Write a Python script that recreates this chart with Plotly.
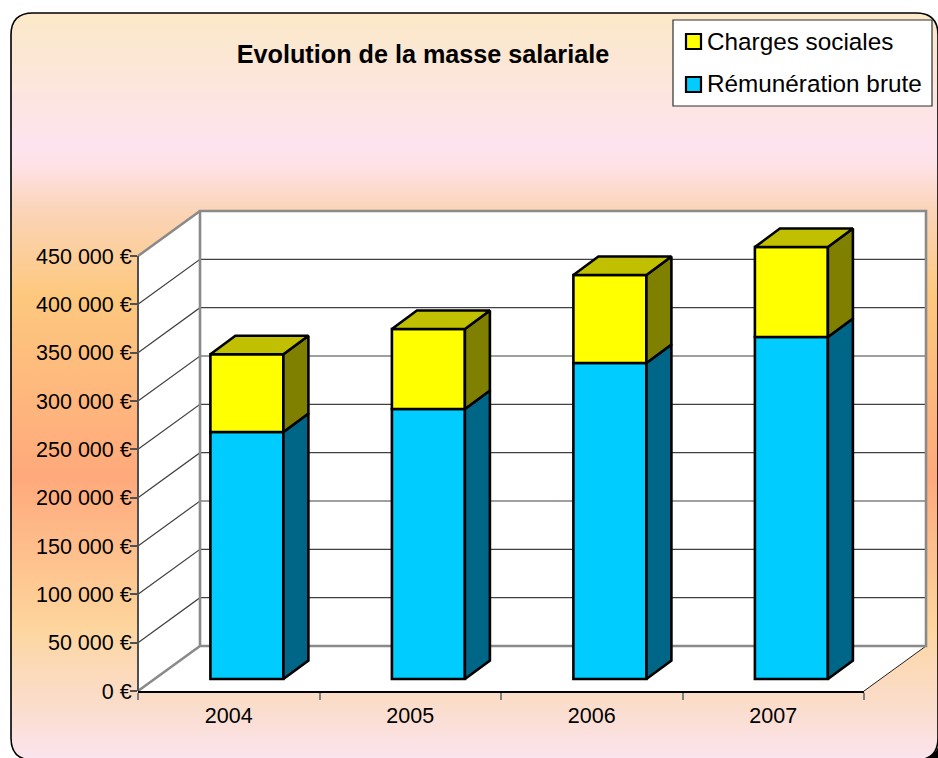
import plotly.graph_objects as go

# ---- data ----
categories = ["2004", "2005", "2006", "2007"]
remuneration_brute = [255500, 279300, 326900, 353800]
charges_sociales = [80500, 82700, 91000, 93100]
y_ticks = [0, 50000, 100000, 150000, 200000, 250000, 300000, 350000, 400000, 450000]
y_tick_labels = ["0 €", "50 000 €", "100 000 €", "150 000 €", "200 000 €",
                 "250 000 €", "300 000 €", "350 000 €", "400 000 €", "450 000 €"]

# ---- page geometry (pixels) ----
W, H = 938, 758
L, R, T0, B0 = 138, 864, 256, 691      # front plane of the 3D box
DX, DY = 62, 45                        # depth of the 3D box
PX_X = (R - L) / len(categories)       # pixels per category
PX_Y = (B0 - T0) / y_ticks[-1]         # pixels per euro
Y_LIMIT = 500000                       # headroom so the depth faces are not clipped
BAR_W = 73 / PX_X
BAR_OFF = 72.4 / PX_X
BAR_BASE = 12 / PX_Y
SIDE_X = 25 / PX_X
SIDE_Y = 18.5 / PX_Y

# vertical gradient of the chart area (pixel row, colour)
gradient = [(13, "#FBE9C8"), (145, "#FDE3EE"), (165, "#FDE2E6"), (205, "#FBD5BC"),
            (295, "#FDC87E"), (477, "#FFA97C"), (625, "#FDD59C"), (660, "#FCD9B4"),
            (700, "#FBDCC8"), (758, "#FBE4EE")]

fig = go.Figure()

# background gradient, on a full-page pixel axis pair
rows = list(range(0, H + 2, 2))
lo, hi = gradient[0][0], gradient[-1][0]
fig.add_trace(go.Heatmap(
    x=[0, W], y=rows, z=[[max(r, lo), max(r, lo)] for r in rows],
    zmin=lo, zmax=hi, showscale=False, hoverinfo="skip", zsmooth="best",
    colorscale=[[(p - lo) / (hi - lo), c] for p, c in gradient],
    xaxis="x", yaxis="y"))


def py(v):
    return B0 - v * PX_Y


# walls and floor
top = y_ticks[-1]
fig.add_trace(go.Scatter(
    x=[L, L + DX, R + DX, R + DX, R, L, L],
    y=[py(top), py(top) - DY, py(top) - DY, B0 - DY, B0, B0, py(top)],
    mode="lines", fill="toself", fillcolor="white", line=dict(width=0),
    hoverinfo="skip", showlegend=False, xaxis="x", yaxis="y"))
for v in y_ticks[1:-1]:
    fig.add_trace(go.Scatter(
        x=[L, L + DX, R + DX], y=[py(v), py(v) - DY, py(v) - DY],
        mode="lines", line=dict(color="#404040", width=1.2),
        hoverinfo="skip", showlegend=False, xaxis="x", yaxis="y"))
fig.add_trace(go.Scatter(
    x=[R, R + DX], y=[B0, B0 - DY], mode="lines",
    line=dict(color="#202020", width=1),
    hoverinfo="skip", showlegend=False, xaxis="x", yaxis="y"))
fig.add_trace(go.Scatter(
    x=[L, L + DX, R + DX, R + DX, L + DX, L + DX, L + DX, L],
    y=[B0, B0 - DY, B0 - DY, py(top) - DY, py(top) - DY, B0 - DY, py(top) - DY, py(top)],
    mode="lines", line=dict(color="#8A8A8A", width=2.6),
    hoverinfo="skip", showlegend=False, xaxis="x", yaxis="y"))
fig.add_trace(go.Scatter(
    x=[L, L], y=[py(0), py(top)], mode="lines", line=dict(color="#505050", width=2),
    hoverinfo="skip", showlegend=False, xaxis="x", yaxis="y"))

# bars: front faces through the chart's own value axis
positions = list(range(len(categories)))
starts_blue = [BAR_BASE] * len(categories)
starts_yellow = [BAR_BASE + r for r in remuneration_brute]
outline = dict(color="black", width=2.6)
fig.add_trace(go.Bar(
    x=positions, y=remuneration_brute, base=starts_blue, width=BAR_W, offset=BAR_OFF,
    marker=dict(color="#00CCFF", line=outline), name="Rémunération brute",
    showlegend=False, cliponaxis=False, xaxis="x2", yaxis="y2"))
fig.add_trace(go.Bar(
    x=positions, y=charges_sociales, base=starts_yellow, width=BAR_W, offset=BAR_OFF,
    marker=dict(color="#FFFF00", line=outline), name="Charges sociales",
    showlegend=False, cliponaxis=False, xaxis="x2", yaxis="y2"))


def face(xs, ys, colour):
    fig.add_trace(go.Scatter(
        x=xs, y=ys, mode="lines", fill="toself", fillcolor=colour,
        line=dict(color="black", width=2.6), cliponaxis=False,
        hoverinfo="skip", showlegend=False, xaxis="x2", yaxis="y2"))


# bars: side and top faces derived from the same values
for p, r, c in zip(positions, remuneration_brute, charges_sociales):
    x1 = p + BAR_OFF + BAR_W
    x0 = p + BAR_OFF
    y0 = BAR_BASE
    y1 = BAR_BASE + r
    y2 = y1 + c
    face([x1, x1 + SIDE_X, x1 + SIDE_X, x1, x1],
         [y0, y0 + SIDE_Y, y1 + SIDE_Y, y1, y0], "#006688")
    face([x1, x1 + SIDE_X, x1 + SIDE_X, x1, x1],
         [y1, y1 + SIDE_Y, y2 + SIDE_Y, y2, y1], "#808000")
    face([x0, x1, x1 + SIDE_X, x0 + SIDE_X, x0],
         [y2, y2, y2 + SIDE_Y, y2 + SIDE_Y, y2], "#C0C000")

# legend entries (their swatches are drawn at the reference spot by the shapes below)
fig.add_trace(go.Scatter(
    x=[None], y=[None], mode="markers", name="Charges sociales", legendgroup="a",
    marker=dict(symbol="square", size=1, color="rgba(0,0,0,0)"),
    xaxis="x2", yaxis="y2"))
fig.add_trace(go.Scatter(
    x=[None], y=[None], mode="markers", name="Rémunération brute", legendgroup="b",
    marker=dict(symbol="square", size=1, color="rgba(0,0,0,0)"),
    xaxis="x2", yaxis="y2"))

r = 22
bx, by = 938, 760
corners = [
    ("white", f"M0,0 L{W},0 L{W},{13} L0,{13} Z"),
    ("white", f"M0,{13} L{11},{13} L{11},{H} L0,{H} Z"),
    ("white", f"M{11},{13} L{11+r},{13} Q{11},{13} {11},{13+r} Z"),
    ("white", f"M{bx},{13} L{bx-r},{13} Q{bx},{13} {bx},{13+r} Z"),
    ("white", f"M{11},{by} L{11+r},{by} Q{11},{by} {11},{by-r} Z"),
    ("black", f"M{bx},{H} L{bx-11},{H} Q{bx-3},{H-3} {bx},{H-11} Z"),
]
shapes = [dict(type="path", path=p, fillcolor=c, line=dict(width=0), xref="x", yref="y", layer="above")
          for c, p in corners]
shapes.append(dict(
    type="path", xref="x", yref="y", layer="above", line=dict(color="black", width=1.6),
    path=f"M{11+r},{13} L{bx-r},{13} Q{bx},{13} {bx},{13+r} L{bx},{by-r} Q{bx},{by} {bx-r},{by} "
         f"L{11+r},{by} Q{11},{by} {11},{by-r} L{11},{13+r} Q{11},{13} {11+r},{13} Z"))
shapes.append(dict(type="rect", xref="x", yref="y", layer="above", x0=673, x1=932, y0=20, y1=106,
                   fillcolor="white", line=dict(color="#303030", width=1.2)))
shapes.append(dict(type="rect", xref="x", yref="y", layer="above", x0=686, x1=701, y0=34, y1=49,
                   fillcolor="#FFFF00", line=dict(color="black", width=2.2)))
shapes.append(dict(type="rect", xref="x", yref="y", layer="above", x0=686, x1=701, y0=77, y1=92,
                   fillcolor="#00CCFF", line=dict(color="black", width=2.2)))

fig.update_layout(
    width=W, height=H, autosize=False,
    margin=dict(l=0, r=0, t=0, b=0, pad=0, autoexpand=False),
    paper_bgcolor="white", plot_bgcolor="rgba(0,0,0,0)",
    font=dict(family="Liberation Sans, Arial, sans-serif", color="black"),
    title=dict(text="<b>Evolution de la masse salariale</b>", x=423 / W, xanchor="center",
               y=1 - 54 / H, yanchor="middle", font=dict(size=25.2, color="black")),
    barmode="overlay", shapes=shapes,
    xaxis=dict(domain=[0, 1], range=[0, W], visible=False, fixedrange=True),
    yaxis=dict(domain=[0, 1], range=[H, 0], visible=False, fixedrange=True),
    xaxis2=dict(domain=[L / W, R / W], range=[0, len(categories)], anchor="y2",
                tickmode="array", tickvals=[p + 0.5 for p in positions], ticktext=categories,
                ticks="", showgrid=False, zeroline=False, showline=True,
                linecolor="black", linewidth=1.6, tickfont=dict(size=21.5), ticklabelstandoff=4,
                minor=dict(tickmode="array", tickvals=list(range(len(categories) + 1)),
                           ticks="outside", ticklen=7, tickcolor="#808080", tickwidth=2, showgrid=False)),
    yaxis2=dict(domain=[1 - B0 / H, 1 - (B0 - Y_LIMIT * PX_Y) / H], range=[0, Y_LIMIT], anchor="x2",
                tickmode="array", tickvals=y_ticks, ticktext=y_tick_labels,
                ticks="outside", ticklen=7, tickcolor="#505050", tickwidth=1.5,
                showgrid=False, zeroline=False, showline=False,
                tickfont=dict(size=21.5), ticklabelstandoff=-6),
    legend=dict(x=667 / W, y=1 - 18 / H, xanchor="left", yanchor="top",
                bgcolor="rgba(0,0,0,0)", borderwidth=0, font=dict(size=24.3),
                itemsizing="trace", tracegroupgap=8, traceorder="grouped"),
)

fig.write_html("out.html", config={"displayModeBar": False},
               post_script="document.body.style.margin='0';")
